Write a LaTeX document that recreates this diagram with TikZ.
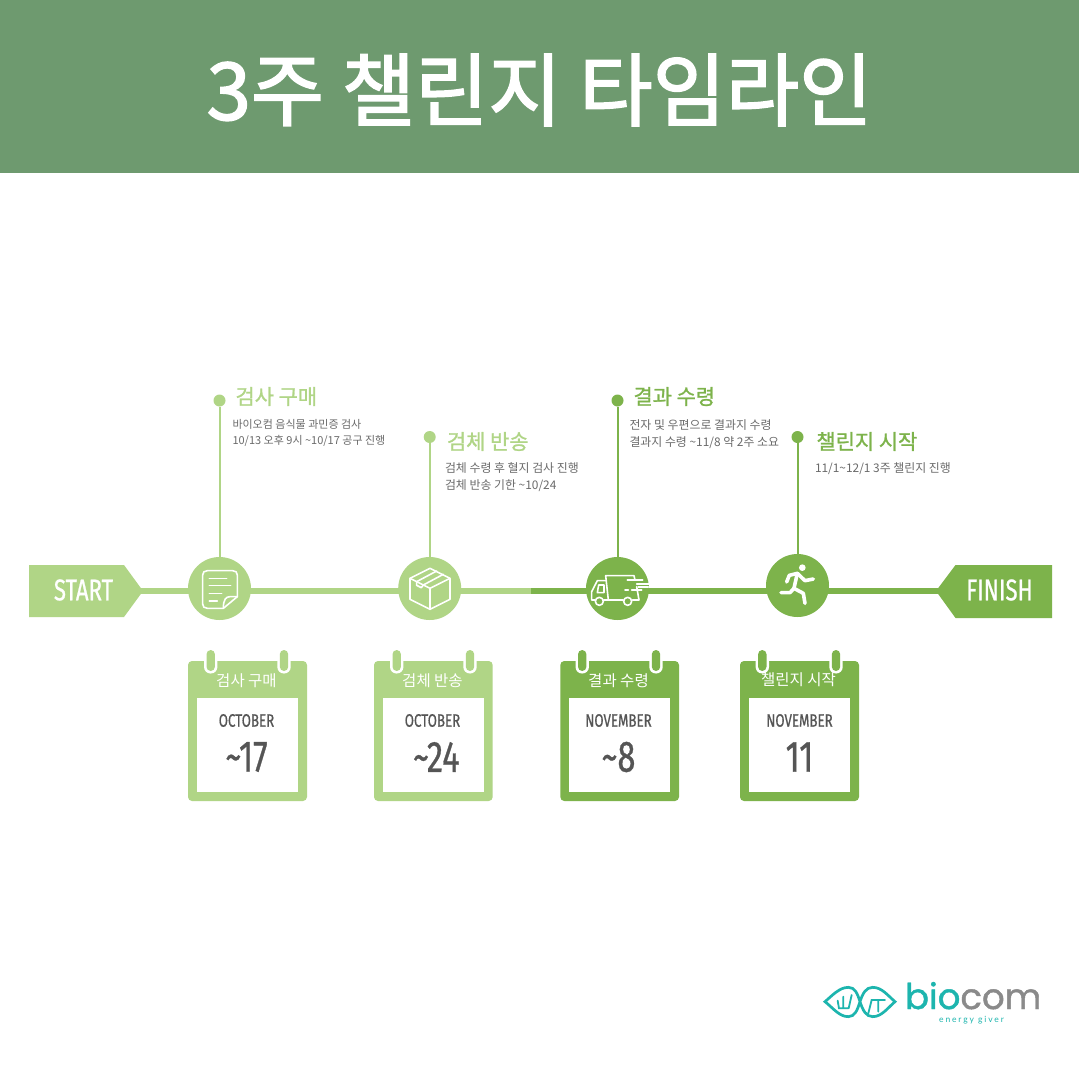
\documentclass[tikz,border=0pt]{standalone}
\usepackage{fontspec}
\setmainfont{Noto Sans CJK KR}
\newfontfamily\titlefont[FakeBold=2]{Noto Sans CJK KR}
\newfontfamily\headfont[FakeBold=1.2]{Noto Sans CJK KR}
\newfontfamily\condfont[FakeStretch=0.74,FakeBold=0.7]{Fira Sans}
\newfontfamily\logofont[FakeBold=1.2]{Poppins}
\newfontfamily\tagfont[LetterSpace=22]{Lato}
\definecolor{hdr}{HTML}{6E9A6F}
\definecolor{lgreen}{HTML}{B0D586}
\definecolor{dgreen}{HTML}{7DB34B}
\definecolor{teal1}{HTML}{1DB5AE}
\definecolor{gray1}{HTML}{8A8A8A}
\definecolor{txt}{HTML}{555555}
\definecolor{desc}{HTML}{6A6A6A}
\tikzset{
  x=1pt,y=-1pt,
  every node/.style={inner sep=0pt,outer sep=0pt},
  hub/.style={circle,minimum size=63pt,fill=#1},
  pindot/.style={circle,minimum size=12pt,fill=#1},
  pinline/.style={draw=#1,line width=2pt},
  mainline/.style={draw=#1,line width=6.5pt},
  head/.style={anchor=west,text=#1,font=\headfont\fontsize{20.9}{24}\selectfont},
  detail/.style={anchor=north west,align=left,text=desc,font=\fontsize{11}{16.7}\selectfont},
  detailb/.style={anchor=north west,align=left,text=desc,font=\fontsize{11.9}{16.7}\selectfont},
  caltitle/.style={text=white,font=\fontsize{15.5}{18}\selectfont},
  calmonth/.style={text=txt,font=\condfont\fontsize{18}{20}\selectfont},
  calnum/.style={text=txt,font=\condfont\fontsize{44}{48}\selectfont},
  flagtext/.style={text=white,font=\condfont\fontsize{30}{32}\selectfont},
  icon/.style={draw=white,line width=1.6pt,line join=round,line cap=round},
  runner/.style={draw=white,line width=3.6pt,line join=round,line cap=round},
  logoline/.style={draw=teal1,line width=2.7pt,line cap=round},
}
\newcommand{\calpage}[7]{% x0,x1,inL,inR,ring1,ring2,colour
  \fill[#7,rounded corners=4pt] (#1,661) rectangle (#2,801);
  \fill[white] (#3,698) rectangle (#4,792);
  \foreach \rx in {#5,#6}{
    \fill[white,rounded corners=6.5pt] (\rx-6.7,655) rectangle (\rx+6.7,673.5);
    \fill[#7,rounded corners=4.2pt] (\rx-4.2,650) rectangle (\rx+4.2,671);
  }
}
\begin{document}
\begin{tikzpicture}
\useasboundingbox (0,0) rectangle (1080,1080);
\fill[white] (0,0) rectangle (1080,1080);
\fill[hdr] (0,0) rectangle (1079,173);
\node[text=white,font=\titlefont\fontsize{79.6}{90}\selectfont] (title) at (539.5,90) {3주 챌린지 타임라인};

% flags
\fill[lgreen] (29,565) -- (124,565) -- (143,591) -- (124,617) -- (29,617) -- cycle;
\fill[dgreen] (1052,565) -- (955.5,565) -- (936,591) -- (955.5,618) -- (1052,618) -- cycle;
\node[flagtext] (start) at (83.5,590) {START};
\node[flagtext] (finish) at (999.5,590) {FINISH};
\coordinate (starttip) at (135,591);
\coordinate (finishtip) at (945,591);
\coordinate (split) at (531,591);

% main line
\draw[mainline=lgreen] (starttip) -- (split);
\draw[mainline=dgreen] (split) -- (finishtip);

% hubs
\node[hub=lgreen] (c1) at (219.5,588.5) {};
\node[hub=lgreen] (c2) at (429.7,588.5) {};
\node[hub=dgreen] (c3) at (617.5,588.5) {};
\node[hub=dgreen] (c4) at (797.5,585.5) {};

% pins
\node[pindot=lgreen] (d1) at (219.5,400.5) {};
\node[pindot=lgreen] (d2) at (429.7,437) {};
\node[pindot=dgreen] (d3) at (617.5,400.5) {};
\node[pindot=dgreen] (d4) at (797.5,437) {};
\draw[pinline=lgreen] (d1) -- (c1);
\draw[pinline=lgreen] (d2) -- (c2);
\draw[pinline=dgreen] (d3) -- (c3);
\draw[pinline=dgreen] (d4) -- (c4);

% headings
\node[head=lgreen] (h1) at (235.5,396.5) {검사 구매};
\node[head=lgreen] (h2) at (447,441.5) {검체 반송};
\node[head=dgreen] (h3) at (633.5,396.5) {결과 수령};
\node[head=dgreen] (h4) at (816.5,441.5) {챌린지 시작};
\node[detail] (t1) at (232.5,419) {바이오컴 음식물 과민증 검사\\10/13 오후 9시 \textasciitilde10/17 공구 진행};
\node[detailb] (t2) at (445,463) {검체 수령 후 혈지 검사 진행\\검체 반송 기한 \textasciitilde10/24};
\node[detailb] (t3) at (629.5,419.5) {전자 및 우편으로 결과지 수령\\결과지 수령 \textasciitilde11/8 약 2주 소요};
\node[detailb] (t4) at (815,463) {11/1\textasciitilde12/1 3주 챌린지 진행};

% calendars
\calpage{188}{307}{197}{298}{210.7}{284}{lgreen}
\calpage{374}{492.7}{383}{484}{396.7}{470}{lgreen}
\calpage{560.3}{679}{569}{670}{582.2}{656}{dgreen}
\calpage{740}{859}{748.8}{849.8}{762.3}{836}{dgreen}
\node[caltitle] (k1) at (246.5,680.5) {검사 구매};
\node[caltitle] (k2) at (432.5,680.5) {검체 반송};
\node[caltitle] (k3) at (618.5,680.5) {결과 수령};
\node[caltitle] (k4) at (798.5,680) {챌린지 시작};
\node[calmonth] (m1) at (246.5,720.5) {OCTOBER};
\node[calmonth] (m2) at (432.5,720.5) {OCTOBER};
\node[calmonth] (m3) at (618.5,720.5) {NOVEMBER};
\node[calmonth] (m4) at (799.5,720.5) {NOVEMBER};
\node[calnum] (n1) at (246.5,757) {\textasciitilde17};
\node[calnum] (n2) at (436.3,757) {\textasciitilde24};
\node[calnum] (n3) at (618.5,757) {\textasciitilde8};
\node[calnum] (n4) at (799.5,757) {11};

% document and box icons
\begin{scope}[shift={(180,540)},x=.3333pt,y=-.3333pt]
\draw[icon] (130,205) -- (82,205) .. controls (73,205) and (68,200) .. (68,192) -- (68,105)
  .. controls (68,97) and (73,92) .. (82,92) -- (158,92) .. controls (167,92) and (172,97) .. (172,105)
  -- (172,170) -- (130,205);
\draw[icon] (172,170) -- (150,170) .. controls (138,170) and (130,178) .. (130,205);
\draw[icon] (88,115) -- (140,115) (88,137) -- (152,137) (88,160) -- (125,160) (88,183) -- (112,183);
\draw[icon] (750,85) -- (810,115) -- (810,178) -- (750,208) -- (690,178) -- (690,115) -- cycle;
\draw[icon] (690,115) -- (750,145) -- (810,115) (750,145) -- (750,208);
\draw[icon] (710,125) -- (770,93) (730,135) -- (790,103);
\draw[icon] (710,125) -- (710,136) -- (724,143) -- (730,135);
\end{scope}

% truck icon and runner
\begin{scope}[shift={(570,540)},x=.3333pt,y=-.3333pt]
\draw[icon] (115,180) -- (107,107) -- (192,107) -- (195,120);
\draw[icon] (115,180) -- (160,180) (187,180) -- (207,180) -- (200,140);
\draw[icon] (107,122) -- (82,122) -- (65,155) -- (65,180) -- (75,180);
\draw[icon] (101,180) -- (115,180);
\draw[icon] (86,135) -- (102,135) -- (102,158) -- (82,158) -- cycle;
\draw[icon] (88,184) circle[radius=12];
\draw[icon] (173,184) circle[radius=12];
\draw[icon] (172,120) -- (218,120) (200,132) -- (237,132) (205,141) -- (235,141);
\draw[icon] (165,150) -- (175,150) (185,150) -- (215,150);
\fill[white] (697,83) circle[radius=10];
\draw[runner] (682,100) -- (672,145);
\draw[runner] (682,100) -- (658,106) -- (650,126);
\draw[runner] (682,100) -- (705,122) -- (730,117);
\draw[runner] (672,145) -- (700,160) -- (705,190);
\draw[runner] (672,145) -- (660,158) -- (633,158);
\end{scope}

% logo
\begin{scope}[shift={(800,960)},x=.3333pt,y=-.3333pt]
\draw[logoline] (75,125) .. controls (95,108) and (118,82) .. (145,82) .. controls (165,82) and (172,100) .. (180,125)
  .. controls (188,150) and (198,170) .. (218,170) .. controls (245,170) and (262,145) .. (285,125)
  .. controls (262,105) and (245,82) .. (218,82) .. controls (198,82) and (188,100) .. (180,125)
  .. controls (172,150) and (165,170) .. (145,170) .. controls (118,170) and (100,145) .. (75,125) -- cycle;
\draw[logoline,line width=1.8pt] (130,110) -- (130,145) (113,122) -- (117,145) -- (143,145) (155,105) -- (146,145);
\draw[logoline,line width=1.8pt] (235,120) -- (235,155) (205,160) -- (215,120) -- (255,120);
\end{scope}
\node[anchor=base west,font=\logofont\fontsize{35.5}{38}\selectfont] (logo) at (905,1009) {\textcolor{teal1}{bio}\textcolor{gray1}{com}};
\node[text=teal1,font=\tagfont\fontsize{8.5}{10}\selectfont] (tag) at (971.5,1020.5) {energy giver};
\end{tikzpicture}
\end{document}
